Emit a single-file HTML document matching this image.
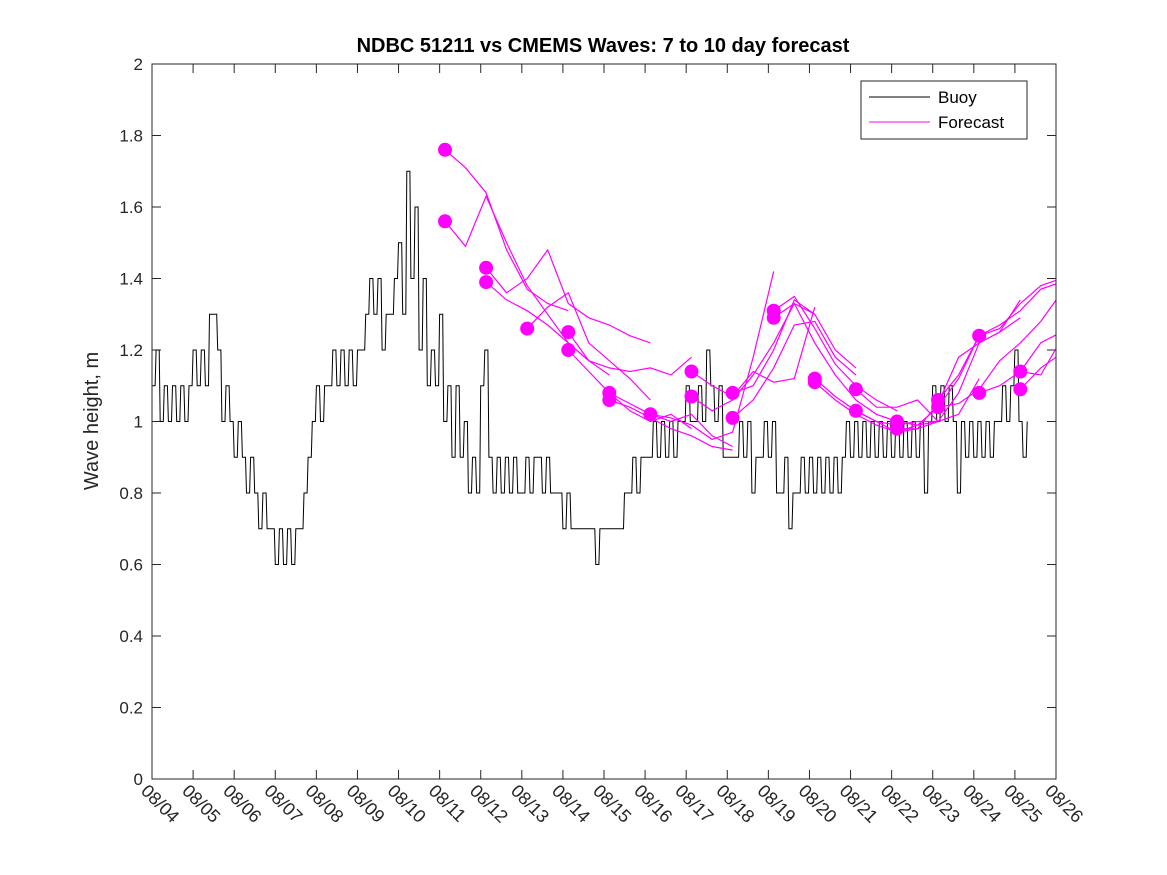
<!DOCTYPE html>
<html><head><meta charset="utf-8"><style>
body{margin:0;background:#fff;}
svg{display:block;font-family:"Liberation Sans","DejaVu Sans",sans-serif;}
</style></head><body>
<svg id="chart" width="1167" height="875" viewBox="0 0 1167 875" xmlns="http://www.w3.org/2000/svg">
<rect width="1167" height="875" fill="#fff"/>
<text x="603" y="52" text-anchor="middle" font-size="20" font-weight="bold" fill="#000">NDBC 51211 vs CMEMS Waves: 7 to 10 day forecast</text>
<text transform="translate(98,421) rotate(-90)" text-anchor="middle" font-size="20" fill="#262626">Wave height, m</text>
<g id="axes"></g>
<g id="buoy"></g>
<g id="fc"></g>
<rect x="152" y="64" width="904" height="715" fill="none" stroke="#262626" stroke-width="1"/>
<g>
<rect x="861" y="81" width="166" height="58" fill="#fff" stroke="#262626" stroke-width="1"/>
<line x1="869" y1="97" x2="930" y2="97" stroke="#000" stroke-width="1"/>
<text x="938" y="103" font-size="17" fill="#000">Buoy</text>
<line x1="869" y1="122" x2="930" y2="122" stroke="#f0f" stroke-width="1"/>
<text x="938" y="128" font-size="17" fill="#000">Forecast</text>
</g>
</svg>
<script>
const yTicks=[0,0.2,0.4,0.6,0.8,1,1.2,1.4,1.6,1.8,2];
const yTickLabels=["0","0.2","0.4","0.6","0.8","1","1.2","1.4","1.6","1.8","2"];
const xTickLabels=["08/04","08/05","08/06","08/07","08/08","08/09","08/10","08/11","08/12","08/13","08/14","08/15","08/16","08/17","08/18","08/19","08/20","08/21","08/22","08/23","08/24","08/25","08/26"];
const buoyStep=0.1;
const buoyValues=[1.1,1.2,1.0,1.1,1.0,1.1,1.0,1.1,1.0,1.1,1.2,1.1,1.2,1.1,1.3,1.3,1.2,1.0,1.1,1.0,
0.9,1.0,0.9,0.8,0.9,0.8,0.7,0.8,0.7,0.7,0.6,0.7,0.6,0.7,0.6,0.7,0.7,0.8,0.9,1.0,
1.1,1.0,1.1,1.1,1.2,1.1,1.2,1.1,1.2,1.1,1.2,1.2,1.3,1.4,1.3,1.4,1.2,1.3,1.3,1.4,
1.5,1.3,1.7,1.4,1.6,1.2,1.4,1.1,1.2,1.1,1.3,1.0,1.1,0.9,1.1,0.9,1.0,0.8,0.9,0.8,
1.1,1.2,0.9,0.8,0.9,0.8,0.9,0.8,0.9,0.8,0.8,0.9,0.8,0.9,0.9,0.8,0.9,0.8,0.8,0.8,
0.7,0.8,0.7,0.7,0.7,0.7,0.7,0.7,0.6,0.7,0.7,0.7,0.7,0.7,0.7,0.8,0.8,0.9,0.8,0.9,
0.9,0.9,1.0,0.9,1.0,0.9,1.0,0.9,1.0,1.0,1.1,1.0,1.0,1.1,1.0,1.2,1.1,1.0,1.1,0.9,
0.9,0.9,0.9,1.0,0.9,1.0,0.8,0.9,0.9,1.0,0.9,1.0,0.8,0.8,0.9,0.7,0.8,0.8,0.9,0.8,
0.9,0.8,0.9,0.8,0.9,0.8,0.9,0.8,0.9,1.0,0.9,1.0,0.9,1.0,0.9,1.0,0.9,1.0,0.9,1.0,
0.9,1.0,0.9,1.0,0.9,1.0,0.9,1.0,0.8,1.0,1.1,1.0,1.1,1.0,1.1,1.0,0.8,1.0,0.9,1.0,
0.9,1.0,0.9,1.0,0.9,1.0,1.0,1.1,1.0,1.1,1.2,1.0,0.9,1.0];
const fcStart=[7.13,7.13,8.13,8.13,9.13,10.13,10.13,11.13,11.13,12.13,13.13,13.13,14.13,14.13,15.13,15.13,16.13,16.13,17.13,17.13,18.13,18.13,19.13,19.13,20.13,20.13,21.13,21.13];
const fcValues=[
[1.76,1.71,1.64,1.48,1.37,1.33,1.31],
[1.56,1.49,1.63,1.50,1.38,1.30,1.22,1.17],
[1.43,1.36,1.40,1.48,1.33,1.29,1.27,1.24,1.22],
[1.39,1.34,1.31,1.27,1.22,1.17,1.13],
[1.26,1.32,1.36,1.22,1.17,1.12,1.06],
[1.25,1.17,1.15,1.14,1.15,1.13,1.18],
[1.20,1.14,1.08,1.03,1.00,1.02,0.98],
[1.08,1.05,1.02,1.00,1.02,0.96,0.93],
[1.06,1.04,1.01,0.98,0.96,0.93,0.92],
[1.02,1.01,0.99,0.95,0.97,1.18,1.42],
[1.14,1.10,1.07,1.14,1.11,1.12,1.32],
[1.07,1.03,1.06,1.13,1.22,1.33,1.30],
[1.08,1.10,1.20,1.34,1.30,1.20,1.15],
[1.01,1.06,1.15,1.27,1.28,1.18,1.13],
[1.31,1.35,1.26,1.16,1.10,1.06,1.03],
[1.29,1.33,1.22,1.13,1.06,1.02,1.00],
[1.12,1.07,1.03,1.00,0.99,1.00,1.00],
[1.11,1.06,1.02,0.99,0.97,0.98,1.00],
[1.09,1.04,1.04,1.06,1.00,1.02,1.12],
[1.03,1.00,0.97,0.99,1.04,1.12,1.24],
[1.00,0.99,1.00,1.08,1.22,1.25,1.29],
[0.98,0.98,1.05,1.18,1.22,1.25,1.34],
[1.06,1.13,1.24,1.26,1.33,1.38,1.40],
[1.04,1.05,1.09,1.17,1.22,1.28,1.36],
[1.24,1.27,1.31,1.37,1.39,1.42],
[1.08,1.10,1.14,1.13,1.23,1.30],
[1.14,1.22,1.25],
[1.09,1.15,1.19]
];
const fcStep=0.5;
const NS="http://www.w3.org/2000/svg";
const X0=152,X1=1056,Y0=779,Y1=64,DMAX=22,VMAX=2;
function xs(d){return X0+(X1-X0)*d/DMAX;}
function ys(v){return Y0-(Y0-Y1)*v/VMAX;}
function mk(t,a,p){const e=document.createElementNS(NS,t);for(const k in a)e.setAttribute(k,a[k]);p.appendChild(e);return e;}
const ax=document.getElementById('axes');
yTicks.forEach((v,i)=>{
 const y=ys(v);
 const t1=mk('line',{x1:X0,y1:y,x2:X0+9,y2:y,stroke:'#262626'},ax);
 
 
 const t2=mk('line',{x1:X1,y1:y,x2:X1-9,y2:y,stroke:'#262626'},ax);
 
 
 const tx=mk('text',{x:X0-9,y:y+6,'text-anchor':'end','font-size':17,fill:'#262626'},ax);
 tx.textContent=yTickLabels[i];
 
 
});
xTickLabels.forEach((lab,i)=>{
 const x=xs(i);
 const t1=mk('line',{x1:x,y1:Y0,x2:x,y2:Y0-9,stroke:'#262626'},ax);
 
 
 const t2=mk('line',{x1:x,y1:Y1,x2:x,y2:Y1+9,stroke:'#262626'},ax);
 
 
 const tx=mk('text',{transform:`translate(${x-12},${Y0+13}) rotate(45)`,'font-size':18,fill:'#262626'},ax);
 tx.textContent=lab;
 
 
});
let bp='';
buoyValues.forEach((v,i)=>{
 const x=xs(i*buoyStep),y=ys(v);
 if(i===0) bp+='M'+x.toFixed(1)+' '+y.toFixed(1)+' ';
 else bp+='L'+(x-1).toFixed(1)+' '+ys(buoyValues[i-1]).toFixed(1)+' L'+x.toFixed(1)+' '+y.toFixed(1)+' ';
});
const bl=mk('path',{d:bp,fill:'none',stroke:'#000','stroke-width':1},document.getElementById('buoy'));


const fg=document.getElementById('fc');
const clipDef=mk('clipPath',{id:'pc'},mk('defs',{},fg));
mk('rect',{x:X0,y:Y1,width:X1-X0,height:Y0-Y1},clipDef);
fcValues.forEach((vals,k)=>{
 let p='';
 vals.forEach((v,i)=>{p+=(i?'L':'M')+xs(fcStart[k]+i*fcStep).toFixed(1)+' '+ys(v).toFixed(1)+' ';});
 const l=mk('path',{d:p,fill:'none',stroke:'#f0f','stroke-width':1.2,'clip-path':'url(#pc)'},fg);
 
 
});
fcValues.forEach((vals,k)=>{
 const c=mk('circle',{cx:xs(fcStart[k]).toFixed(1),cy:ys(vals[0]).toFixed(1),r:7,fill:'#f0f'},fg);
 
 
});
</script>
</body></html>
